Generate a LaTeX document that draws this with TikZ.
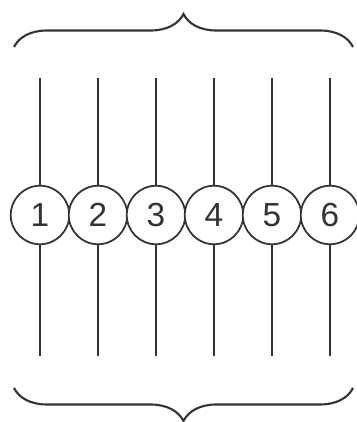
\documentclass[tikz,border=0pt]{standalone}
\usepackage{fontspec}
\setsansfont{Liberation Sans}
\usepackage{tikz}
\usetikzlibrary{decorations.pathreplacing}
\definecolor{inkgray}{rgb}{0.2,0.2,0.2}

\tikzset{
    pinball/.style={draw=inkgray, circle, fill=white, line width=1pt, minimum size=1.17cm, inner sep=0pt,
        font=\sffamily\fontsize{19}{22}\selectfont, text=inkgray},
    wire/.style={draw=inkgray, line width=0.9pt},
    bracket/.style={draw=inkgray, line width=1.2pt, decorate, decoration={brace, amplitude=0.66cm}}
}

\begin{document}
\begin{tikzpicture}[x=0.02cm, y=-0.02cm]
    \useasboundingbox (0,0) rectangle (357,422);

    % Braces
    \coordinate (bl) at (14,47);
    \coordinate (br) at (353,47);
    \coordinate (dl) at (14,388);
    \coordinate (dr) at (353,388);
    \draw[bracket] (bl) -- (br);
    \draw[bracket] (dr) -- (dl);

    % Pins
    \foreach \i/\x in {1/40, 2/98, 3/156, 4/214, 5/272, 6/330} {
        \coordinate (top\i) at (\x,78);
        \coordinate (bot\i) at (\x,356);
        \node[pinball] (pin\i) at (\x,215) {\i};
        \draw[wire] (top\i) -- (pin\i);
        \draw[wire] (pin\i) -- (bot\i);
    }

\end{tikzpicture}
\end{document}
